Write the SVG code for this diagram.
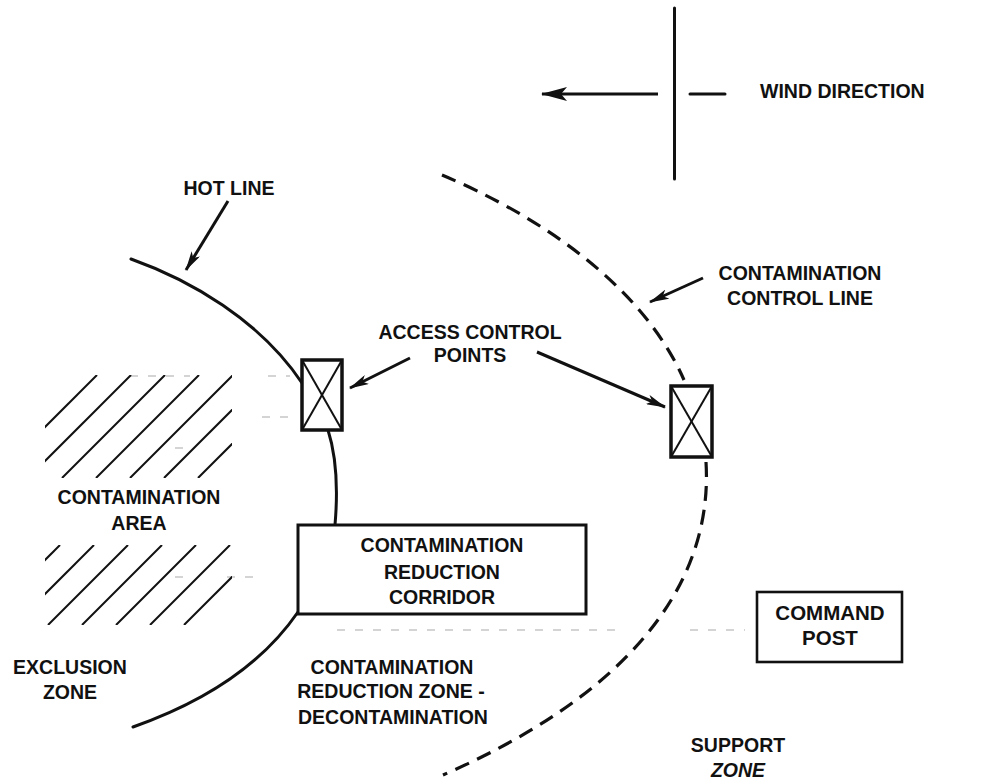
<svg xmlns="http://www.w3.org/2000/svg" width="987" height="781" viewBox="0 0 987 781">
<style>
  .lbl { font-family: "Liberation Sans", Arial, sans-serif; font-weight: bold; font-size: 19.5px; fill: #111; text-anchor: middle; }
  .ln { fill: none; stroke: #111; stroke-linecap: round; }
  .hot { stroke-width: 3; }
  .ccl { stroke-width: 3.2; stroke-dasharray: 15 9; stroke-linecap: butt; }
  .box { fill: #fff; stroke: #111; }
  .acp { stroke-width: 3.5; }
  .x { stroke: #111; stroke-width: 2; }
  .hatch line { stroke: #111; stroke-width: 2; }
  .arrow { fill: none; stroke: #111; stroke-width: 3; }
  .faint { stroke: #aaa; stroke-width: 1.2; stroke-dasharray: 8 10; fill: none; }
</style>
<defs>
  <marker id="ah" viewBox="0 0 20 10" refX="19" refY="5" markerWidth="20" markerHeight="10" markerUnits="userSpaceOnUse" orient="auto">
    <path d="M0,0 L20,5 L0,10 L5,5 z" fill="#111"/>
  </marker>
  <marker id="ahBig" viewBox="0 0 26 14" refX="25" refY="7" markerWidth="26" markerHeight="14" markerUnits="userSpaceOnUse" orient="auto">
    <path d="M0,0 L26,7 L0,14 L6,7 z" fill="#111"/>
  </marker>
  <clipPath id="clipUp"><rect x="45" y="375" width="187" height="103"/></clipPath>
  <clipPath id="clipLow"><rect x="45" y="545" width="187" height="80"/></clipPath>
</defs>

<!-- faint scan guide lines -->
<g id="faint-lines">
  <path class="faint" d="M130,376 H190 M268,376 H290 M262,417 H292 M175,448 H190 M175,577 H190 M227,577 H262 M337,630 H620 M690,630 H745"/>
</g>

<!-- Wind direction indicator -->
<g id="wind">
  <line class="ln" x1="674.5" y1="8" x2="674.5" y2="179" stroke-width="3"/>
  <line class="ln" x1="690" y1="94" x2="725" y2="94" stroke-width="3"/>
  <text class="lbl" x="760" y="98" style="text-anchor:start">WIND DIRECTION</text>
</g>

<!-- Hot line -->
<g id="hot-line">
  <path class="ln hot" d="M131,259 C190,280 260,320 302,383"/>
  <path class="ln hot" d="M328,430 C336,455 338,490 335,525"/>
  <path class="ln hot" d="M298,612 C265,660 210,700 133,727"/>
  <text class="lbl" x="229" y="195">HOT LINE</text>
</g>

<!-- Contamination control line (dashed) -->
<g id="contamination-control-line">
  <path class="ln ccl" d="M442,175 C530,212 640,280 684,380"/>
  <path class="ln ccl" d="M706,462 C712,560 660,680 443,775"/>
  <text class="lbl" x="800" y="280">CONTAMINATION</text>
  <text class="lbl" x="800" y="305">CONTROL LINE</text>
</g>

<!-- Contamination area hatching -->
<g id="contamination-area">
  <g class="hatch" clip-path="url(#clipUp)">
    <line x1="97" y1="375" x2="-6" y2="478"/>
    <line x1="131" y1="375" x2="28" y2="478"/>
    <line x1="165" y1="375" x2="62" y2="478"/>
    <line x1="199" y1="375" x2="96" y2="478"/>
    <line x1="233" y1="375" x2="130" y2="478"/>
    <line x1="267" y1="375" x2="164" y2="478"/>
    <line x1="301" y1="375" x2="198" y2="478"/>
  </g>
  <g class="hatch" clip-path="url(#clipLow)">
    <line x1="60" y1="545" x2="-20" y2="625"/>
    <line x1="94" y1="545" x2="14" y2="625"/>
    <line x1="128" y1="545" x2="48" y2="625"/>
    <line x1="162" y1="545" x2="82" y2="625"/>
    <line x1="196" y1="545" x2="116" y2="625"/>
    <line x1="230" y1="545" x2="150" y2="625"/>
    <line x1="264" y1="545" x2="184" y2="625"/>
  </g>
  <text class="lbl" x="139" y="504">CONTAMINATION</text>
  <text class="lbl" x="139" y="530">AREA</text>
</g>

<!-- Access control points -->
<g id="acp-left">
  <rect class="box acp" x="302" y="360" width="40" height="70"/>
  <line class="x" x1="302" y1="360" x2="342" y2="430"/>
  <line class="x" x1="342" y1="360" x2="302" y2="430"/>
</g>
<g id="acp-right">
  <rect class="box acp" x="671" y="386" width="41" height="71"/>
  <line class="x" x1="671" y1="386" x2="712" y2="457"/>
  <line class="x" x1="712" y1="386" x2="671" y2="457"/>
</g>
<g id="acp-label">
  <text class="lbl" x="470" y="339">ACCESS CONTROL</text>
  <text class="lbl" x="470" y="362">POINTS</text>
</g>

<!-- Contamination reduction corridor -->
<g id="corridor">
  <rect class="box" x="298" y="525" width="288" height="89" stroke-width="3"/>
  <text class="lbl" x="442" y="552">CONTAMINATION</text>
  <text class="lbl" x="442" y="579">REDUCTION</text>
  <text class="lbl" x="442" y="604">CORRIDOR</text>
</g>

<!-- Command post -->
<g id="command-post">
  <rect class="box" x="757" y="592" width="145" height="70" stroke-width="2.6"/>
  <text class="lbl" x="830" y="620" style="font-size:20.5px">COMMAND</text>
  <text class="lbl" x="830" y="645" style="font-size:20.5px">POST</text>
</g>

<!-- Zone labels -->
<g id="exclusion-zone">
  <text class="lbl" x="70" y="674">EXCLUSION</text>
  <text class="lbl" x="70" y="699">ZONE</text>
</g>
<g id="contamination-reduction-zone">
  <text class="lbl" x="392" y="674">CONTAMINATION</text>
  <text class="lbl" x="391" y="698">REDUCTION ZONE -</text>
  <text class="lbl" x="393" y="724">DECONTAMINATION</text>
</g>
<g id="support-zone">
  <text class="lbl" x="738" y="752">SUPPORT</text>
  <text class="lbl" x="738" y="777" style="font-style:italic">ZONE</text>
</g>

<!-- Connectors (pointer arrows) -->
<g id="connectors">
  <line class="arrow" x1="658" y1="94" x2="542" y2="94" marker-end="url(#ahBig)"/>
  <line class="arrow" x1="228" y1="201" x2="186" y2="270" marker-end="url(#ah)"/>
  <line class="arrow" x1="410" y1="358" x2="350" y2="388" marker-end="url(#ah)"/>
  <line class="arrow" x1="537" y1="352" x2="665" y2="407" marker-end="url(#ah)"/>
  <line class="arrow" x1="703" y1="278" x2="650" y2="302" marker-end="url(#ah)"/>
</g>
</svg>
